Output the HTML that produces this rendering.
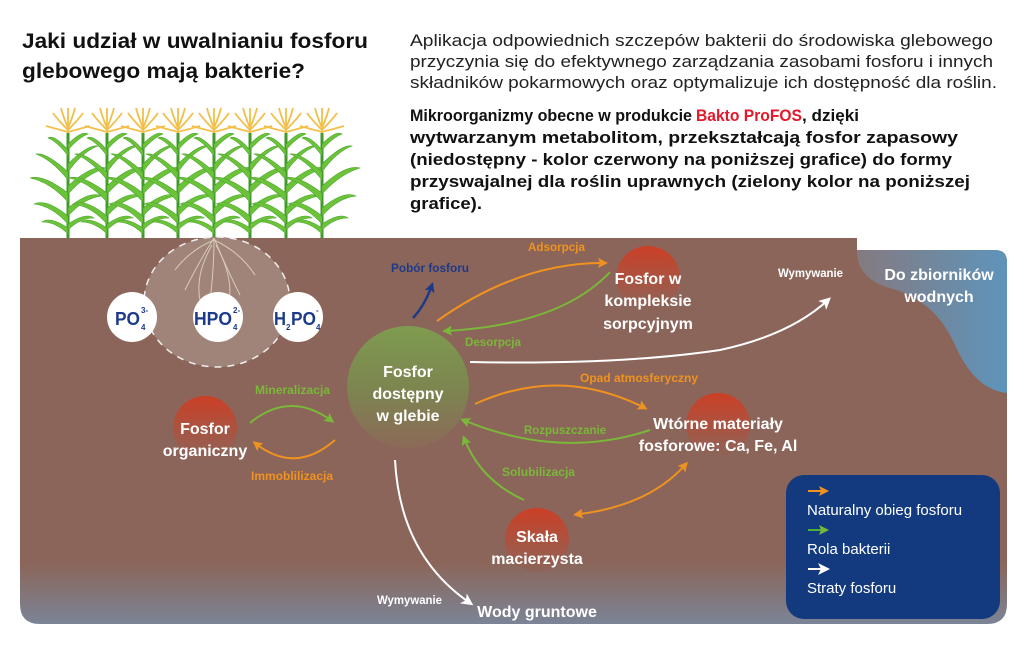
<!DOCTYPE html>
<html><head><meta charset="utf-8"><style>
html,body{margin:0;padding:0;background:#fff;}
svg{display:block;}
text{font-family:"Liberation Sans",sans-serif;}
.b{font-weight:bold;}
</style></head><body>
<svg width="1024" height="646" viewBox="0 0 1024 646" xmlns="http://www.w3.org/2000/svg">
<defs>
<linearGradient id="soilB" x1="0" y1="0" x2="0" y2="1">
<stop offset="0" stop-color="#8b6559"/><stop offset="0.84" stop-color="#8b6559"/><stop offset="1" stop-color="#7b8496"/>
</linearGradient>
<linearGradient id="water" x1="0" y1="0" x2="1" y2="0">
<stop offset="0" stop-color="#857a80"/><stop offset="1" stop-color="#5e94bb"/>
</linearGradient>
<linearGradient id="green" x1="0" y1="0" x2="0" y2="1">
<stop offset="0" stop-color="#7f9b4f"/><stop offset="0.5" stop-color="#7c8650"/><stop offset="1" stop-color="#8b6a58"/>
</linearGradient>
<linearGradient id="red" x1="0" y1="0" x2="0" y2="1">
<stop offset="0" stop-color="#cc3f26"/><stop offset="1" stop-color="#8b6559"/>
</linearGradient>
<marker id="ao" markerWidth="10" markerHeight="10" refX="7" refY="5" orient="auto" markerUnits="userSpaceOnUse"><path d="M0,0 L10,5 L0,10 L2,5Z" fill="#f0921f"/></marker>
<marker id="aos" markerWidth="10" markerHeight="10" refX="3" refY="5" orient="auto-start-reverse" markerUnits="userSpaceOnUse"><path d="M0,0 L10,5 L0,10 L2,5Z" fill="#f0921f"/></marker>
<marker id="ag" markerWidth="10" markerHeight="10" refX="7" refY="5" orient="auto" markerUnits="userSpaceOnUse"><path d="M0,0 L10,5 L0,10 L2,5Z" fill="#7ab83a"/></marker>
<marker id="aw" markerWidth="12" markerHeight="12" refX="8" refY="6" orient="auto" markerUnits="userSpaceOnUse"><path d="M0,0 L12,6 L0,12 L3,6Z" fill="#fff"/></marker>
<marker id="an" markerWidth="10" markerHeight="10" refX="7" refY="5" orient="auto" markerUnits="userSpaceOnUse"><path d="M0,0 L10,5 L0,10 L2,5Z" fill="#1d3a8a"/></marker>
<g id="plant">
<path d="M0,0 V-105" stroke="#3f9a2a" stroke-width="3"/>
<g fill="#6cc33a" stroke="#4aa52c" stroke-width="0.6">
<path d="M0,-10 Q-18,-22 -26,-16 Q-12,-16 0,-4Z"/>
<path d="M0,-14 Q18,-26 26,-20 Q12,-20 0,-8Z"/>
<path d="M0,-22 Q-22,-40 -34,-34 Q-16,-32 0,-14Z"/>
<path d="M0,-30 Q22,-48 34,-42 Q16,-40 0,-22Z"/>
<path d="M0,-45 Q-25,-64 -38,-60 Q-18,-56 0,-36Z"/>
<path d="M0,-52 Q24,-74 38,-70 Q18,-64 0,-44Z"/>
<path d="M0,-66 Q-22,-86 -32,-84 Q-16,-78 0,-58Z"/>
<path d="M0,-74 Q20,-94 30,-92 Q14,-86 0,-66Z"/>
<path d="M0,-88 Q-14,-104 -20,-100 Q-10,-96 0,-82Z"/>
<path d="M0,-94 Q14,-108 20,-104 Q10,-100 0,-88Z"/>
</g>
<g stroke="#f2c04a" stroke-width="1.8" fill="none">
<path d="M0,-105 V-130"/><path d="M0,-108 Q-10,-118 -15,-125"/><path d="M0,-108 Q10,-118 15,-125"/>
<path d="M0,-106 Q-15,-110 -22,-112"/><path d="M0,-106 Q15,-110 22,-112"/>
<path d="M0,-110 Q-5,-122 -7,-130"/><path d="M0,-110 Q5,-122 7,-130"/>
</g>
</g>
</defs>

<text x="22" y="48" class="b" font-size="21" fill="#111" textLength="346" lengthAdjust="spacingAndGlyphs">Jaki udział w uwalnianiu fosforu</text>
<text x="22" y="78" class="b" font-size="21" fill="#111" textLength="283" lengthAdjust="spacingAndGlyphs">glebowego mają bakterie?</text>
<g font-size="17" fill="#222">
<text x="410" y="46" textLength="583" lengthAdjust="spacingAndGlyphs">Aplikacja odpowiednich szczepów bakterii do środowiska glebowego</text>
<text x="410" y="67" textLength="583" lengthAdjust="spacingAndGlyphs">przyczynia się do efektywnego zarządzania zasobami fosforu i innych</text>
<text x="410" y="88" textLength="587" lengthAdjust="spacingAndGlyphs">składników pokarmowych oraz optymalizuje ich dostępność dla roślin.</text>
</g>
<g font-size="17" fill="#111" class="b">
<text x="410" y="121" textLength="282" lengthAdjust="spacingAndGlyphs">Mikroorganizmy obecne w produkcie</text>
<text x="696" y="121" fill="#e3192b" textLength="106" lengthAdjust="spacingAndGlyphs">Bakto ProFOS</text>
<text x="802" y="121" textLength="57" lengthAdjust="spacingAndGlyphs">, dzięki</text>
<text x="410" y="143" textLength="548" lengthAdjust="spacingAndGlyphs">wytwarzanym metabolitom, przekształcają fosfor zapasowy</text>
<text x="410" y="165" textLength="542" lengthAdjust="spacingAndGlyphs">(niedostępny - kolor czerwony na poniższej grafice) do formy</text>
<text x="410" y="187" textLength="560" lengthAdjust="spacingAndGlyphs">przyswajalnej dla roślin uprawnych (zielony kolor na poniższej</text>
<text x="410" y="209" textLength="72" lengthAdjust="spacingAndGlyphs">grafice).</text>
</g>

<use href="#plant" x="68" y="238"/><use href="#plant" x="107" y="238"/><use href="#plant" x="143" y="238"/><use href="#plant" x="178" y="238"/>
<use href="#plant" x="214" y="238"/><use href="#plant" x="250" y="238"/><use href="#plant" x="286" y="238"/><use href="#plant" x="322" y="238"/>

<path d="M20,238 H857 V250 H995 Q1007,250 1007,262 V604 Q1007,624 987,624 H40 Q20,624 20,604 Z" fill="url(#soilB)"/>
<path d="M857,250 H995 Q1007,250 1007,262 V393 Q975,390 955,345 Q935,300 890,288 Q860,280 857,255 Z" fill="url(#water)"/>

<ellipse cx="217" cy="302" rx="73" ry="65" fill="#a08479" stroke="#eee" stroke-width="1.5" stroke-dasharray="7,6"/>
<g stroke="#d8cbb8" stroke-width="1" fill="none">
<path d="M214,238 Q200,260 185,290"/><path d="M214,238 Q225,265 240,295"/><path d="M214,238 Q214,270 210,300"/>
<path d="M214,240 Q190,250 175,270"/><path d="M214,240 Q240,252 255,275"/><path d="M212,245 Q195,275 200,300"/><path d="M216,245 Q235,280 228,305"/>
</g>
<g fill="#fff"><circle cx="132" cy="317" r="25"/><circle cx="218" cy="317" r="25"/><circle cx="298" cy="317" r="25"/></g>
<g fill="#1d3a8a" class="b">
<text x="115" y="325" font-size="18" textLength="25" lengthAdjust="spacingAndGlyphs">PO</text><text x="141" y="313" font-size="8">3-</text><text x="141" y="330" font-size="8">4</text>
<text x="194" y="325" font-size="18" textLength="38" lengthAdjust="spacingAndGlyphs">HPO</text><text x="233" y="313" font-size="8">2-</text><text x="233" y="330" font-size="8">4</text>
<text x="274" y="325" font-size="18" textLength="12" lengthAdjust="spacingAndGlyphs">H</text><text x="286" y="330" font-size="8">2</text><text x="291" y="325" font-size="18" textLength="25" lengthAdjust="spacingAndGlyphs">PO</text><text x="316" y="313" font-size="8">-</text><text x="316" y="330" font-size="8">4</text>
</g>

<circle cx="408" cy="387" r="61" fill="url(#green)"/>
<circle cx="648" cy="278" r="32" fill="url(#red)"/>
<circle cx="205" cy="428" r="32" fill="url(#red)"/>
<circle cx="718" cy="425" r="32" fill="url(#red)"/>
<circle cx="537" cy="540" r="32" fill="url(#red)"/>

<g fill="none" stroke-width="2">
<path d="M413,318 Q425,305 432,285" stroke="#1d3a8a" stroke-width="2.5" marker-end="url(#an)"/>
<path d="M437,321 Q520,262 605,263" stroke="#f0921f" marker-end="url(#ao)"/>
<path d="M610,272 Q560,325 445,331" stroke="#7ab83a" marker-end="url(#ag)"/>
<path d="M470,362 Q620,365 720,350 Q790,335 828,300" stroke="#fff" marker-end="url(#aw)"/>
<path d="M475,404 Q560,365 645,408" stroke="#f0921f" marker-end="url(#ao)"/>
<path d="M650,430 Q560,460 463,420" stroke="#7ab83a" marker-end="url(#ag)"/>
<path d="M524,500 Q480,480 464,438" stroke="#7ab83a" marker-end="url(#ag)"/>
<path d="M580,514 Q650,505 686,464" stroke="#f0921f" marker-start="url(#aos)" marker-end="url(#ao)"/>
<path d="M250,423 Q290,390 332,421" stroke="#7ab83a" marker-end="url(#ag)"/>
<path d="M335,440 Q295,475 255,443" stroke="#f0921f" marker-end="url(#ao)"/>
<path d="M395,460 Q400,555 470,603" stroke="#fff" marker-end="url(#aw)"/>
</g>

<g class="b" font-size="12">
<text x="391" y="272" fill="#1d3a8a" textLength="78" lengthAdjust="spacingAndGlyphs">Pobór fosforu</text>
<text x="528" y="251" fill="#f0921f" textLength="57" lengthAdjust="spacingAndGlyphs">Adsorpcja</text>
<text x="465" y="346" fill="#7ab83a" textLength="56" lengthAdjust="spacingAndGlyphs">Desorpcja</text>
<text x="778" y="277" fill="#fff" textLength="65" lengthAdjust="spacingAndGlyphs">Wymywanie</text>
<text x="580" y="382" fill="#f0921f" textLength="118" lengthAdjust="spacingAndGlyphs">Opad atmosferyczny</text>
<text x="524" y="434" fill="#7ab83a" textLength="82" lengthAdjust="spacingAndGlyphs">Rozpuszczanie</text>
<text x="502" y="476" fill="#7ab83a" textLength="73" lengthAdjust="spacingAndGlyphs">Solubilizacja</text>
<text x="255" y="394" fill="#7ab83a" textLength="75" lengthAdjust="spacingAndGlyphs">Mineralizacja</text>
<text x="251" y="480" fill="#f0921f" textLength="82" lengthAdjust="spacingAndGlyphs">Immoblilizacja</text>
<text x="377" y="604" fill="#fff" textLength="65" lengthAdjust="spacingAndGlyphs">Wymywanie</text>
</g>
<g class="b" font-size="16" fill="#fff" text-anchor="middle">
<text x="408" y="377">Fosfor</text><text x="408" y="399">dostępny</text><text x="408" y="421">w glebie</text>
<text x="648" y="284">Fosfor w</text><text x="648" y="306">kompleksie</text><text x="648" y="329">sorpcyjnym</text>
<text x="205" y="434">Fosfor</text><text x="205" y="456">organiczny</text>
<text x="718" y="429">Wtórne materiały</text><text x="718" y="451">fosforowe: Ca, Fe, Al</text>
<text x="537" y="542">Skała</text><text x="537" y="564">macierzysta</text>
<text x="939" y="280">Do zbiorników</text><text x="939" y="302">wodnych</text>
<text x="537" y="617">Wody gruntowe</text>
</g>

<rect x="786" y="475" width="214" height="144" rx="18" fill="#133a7f"/>
<g stroke-width="2">
<line x1="808" y1="491" x2="826" y2="491" stroke="#f0921f" marker-end="url(#ao)"/>
<line x1="808" y1="530" x2="826" y2="530" stroke="#4ab037" marker-end="url(#ag)"/>
<line x1="808" y1="569" x2="826" y2="569" stroke="#fff" marker-end="url(#aw)"/>
</g>
<g font-size="15" fill="#fff">
<text x="807" y="515">Naturalny obieg fosforu</text>
<text x="807" y="554">Rola bakterii</text>
<text x="807" y="593">Straty fosforu</text>
</g>
</svg>
</body></html>
